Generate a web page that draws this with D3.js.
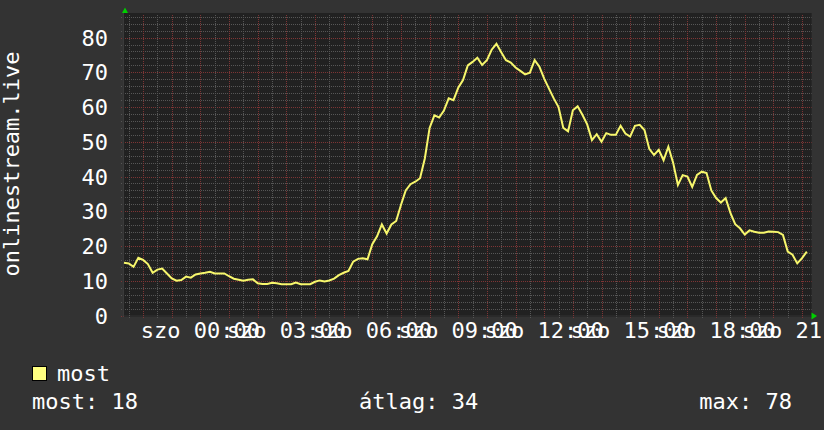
<!DOCTYPE html>
<html>
<head>
<meta charset="utf-8">
<script src="https://cdn.jsdelivr.net/npm/d3@7"></script>
<style>
  body { margin: 0; background: #333333; }
  text { font-family: "DejaVu Sans Mono", monospace; font-size: 22px; fill: #ffffff; }
</style>
</head>
<body>
<div id="graphique"></div>
<script>
// Idő: 10 perces minták péntek 21:20-tól
const startTime = new Date(2024, 0, 5, 21, 20)
const endTime = new Date(2024, 0, 6, 21, 20)
const stepMinutes = 10

// hallgatók száma (leolvasva)
const listeners = [
  15.2, 15.0, 14.0, 16.6, 16.0, 14.8, 12.3, 13.2, 13.5, 12.1,
  10.7, 10.0, 10.2, 11.2, 10.9, 11.8, 12.1, 12.3, 12.6, 12.1,
  12.1, 12.1, 11.3, 10.6, 10.3, 10.0, 10.3, 10.4, 9.3, 9.1,
  9.1, 9.4, 9.3, 9.0, 9.0, 9.0, 9.5, 9.0, 9.0, 9.0,
  9.7, 10.1, 9.8, 10.1, 10.6, 11.6, 12.3, 12.8, 15.5, 16.3,
  16.5, 16.2, 20.5, 22.8, 26.2, 23.6, 26.2, 27.2, 31.8, 36.0,
  37.8, 38.5, 39.5, 45.2, 54.0, 57.6, 57.0, 59.0, 62.5, 62.0,
  65.6, 67.8, 72.0, 73.0, 74.2, 72.1, 73.5, 76.5, 78.2, 75.8,
  73.5, 72.8, 71.4, 70.4, 69.4, 69.9, 73.5, 71.6, 68.2, 65.3,
  62.5, 60.0, 54.0, 53.0, 59.1, 60.2, 57.8, 55.0, 50.5, 52.2,
  50.0, 52.5, 52.0, 52.0, 54.6, 52.4, 51.5, 54.6, 54.9, 53.4,
  48.0, 46.2, 47.7, 44.7, 48.6, 44.0, 37.6, 40.4, 40.0, 37.0,
  40.5, 41.4, 41.0, 36.0, 33.8, 32.5, 33.8, 29.5, 26.3, 25.1,
  23.3, 24.5, 24.1, 23.8, 23.8, 24.2, 24.1, 24.0, 23.2, 18.4,
  17.5, 15.0, 16.5, 18.4
]

const yTicks = [0, 10, 20, 30, 40, 50, 60, 70, 80]
const xTickHours = [0, 3, 6, 9, 12, 15, 18, 21]
const xTickLabels = ["szo 00:00", "szo 03:00", "szo 06:00", "szo 09:00",
                     "szo 12:00", "szo 15:00", "szo 18:00", "szo 21:00"]

const yTitle = "onlinestream.live"
const legendName = "most"
const legendStats = [
  { label: "most", value: 18 },
  { label: "átlag", value: 34 },
  { label: "max", value: 78 }
]

let data = listeners.map((v, i) => ({
  time: d3.timeMinute.offset(startTime, i * stepMinutes),
  value: v
}))

// Méretek
let width = 824, height = 430
let plot = { left: 124, right: 811.6, top: 15, bottom: 315.5 }

let x = d3.scaleTime()
  .domain([startTime, endTime])
  .range([plot.left, plot.right])

let y = d3.scaleLinear()
  .domain([0, 86.5])
  .range([plot.bottom, plot.top])

let crisp = v => Math.round(v) + 0.5

let svg = d3.select("#graphique")
  .append("svg")
  .attr("width", width)
  .attr("height", height)

svg.append("rect")
  .attr("width", width).attr("height", height)
  .attr("fill", "#333333")

// grafikon háttér
svg.append("rect")
  .attr("x", plot.left).attr("y", plot.top - 2)
  .attr("width", plot.right - plot.left)
  .attr("height", plot.bottom - plot.top + 2)
  .attr("fill", "#212121")

let grid = svg.append("g")

// vízszintes rács: 2-esével, 10-esével piros
d3.range(0, 87, 2).forEach(v => {
  let major = v % 10 === 0
  grid.append("line")
    .attr("x1", plot.left - 3).attr("x2", plot.right)
    .attr("y1", crisp(y(v))).attr("y2", crisp(y(v)))
    .attr("stroke", major ? "#7e3535" : "#565656")
    .attr("stroke-dasharray", "1,1")
})

// függőleges rács: félóránként, óránként piros
d3.timeMinute.every(30).range(startTime, endTime).forEach(t => {
  let major = t.getMinutes() === 0
  grid.append("line")
    .attr("x1", crisp(x(t))).attr("x2", crisp(x(t)))
    .attr("y1", plot.top).attr("y2", plot.bottom + 3)
    .attr("stroke", major ? "#7e3535" : "#565656")
    .attr("stroke-dasharray", "1,1")
})

// tengelyek
svg.append("line")
  .attr("x1", plot.left - 0.5).attr("x2", plot.left - 0.5)
  .attr("y1", 11).attr("y2", plot.bottom + 1)
  .attr("stroke", "#3a3a3a")
svg.append("line")
  .attr("x1", plot.left).attr("x2", plot.right + 1)
  .attr("y1", crisp(plot.bottom)).attr("y2", crisp(plot.bottom))
  .attr("stroke", "#2a2a2a")

// nyilak
svg.append("path")
  .attr("d", "M122,13 L125,7.5 L128,13 Z")
  .attr("fill", "#00d000")
svg.append("path")
  .attr("d", "M811.5,312.5 L817,316 L811.5,319.5 Z")
  .attr("fill", "#00d000")

// y címkék
svg.append("g")
  .selectAll("text")
  .data(yTicks)
  .join("text")
  .attr("x", 108)
  .attr("y", d => y(d) + 8)
  .attr("text-anchor", "end")
  .text(d => d)

// x címkék
svg.append("g")
  .selectAll("text")
  .data(xTickHours)
  .join("text")
  .attr("x", d => x(new Date(2024, 0, 6, d, 0)))
  .attr("y", 338)
  .attr("text-anchor", "middle")
  .text((d, i) => xTickLabels[i])

// y tengely felirat
svg.append("text")
  .attr("transform", "translate(18.5,164) rotate(-90)")
  .attr("text-anchor", "middle")
  .text(yTitle)

// vonal
let line = d3.line()
  .x(d => x(d.time))
  .y(d => y(d.value))

svg.append("path")
  .datum(data)
  .attr("d", line)
  .attr("fill", "none")
  .attr("stroke", "#f7f76c")
  .attr("stroke-width", 2)
  .attr("stroke-linejoin", "miter")

// jelmagyarázat
svg.append("rect")
  .attr("x", 32.5).attr("y", 366.5)
  .attr("width", 14).attr("height", 14)
  .attr("fill", "#ffff80")
  .attr("stroke", "#000")
svg.append("text")
  .attr("x", 57).attr("y", 381)
  .text(legendName)

let statPos = [
  { x: 32, anchor: "start" },
  { x: 359, anchor: "start" },
  { x: 792, anchor: "end" }
]
svg.append("g")
  .selectAll("text")
  .data(legendStats)
  .join("text")
  .attr("x", (d, i) => statPos[i].x)
  .attr("y", 409)
  .attr("text-anchor", (d, i) => statPos[i].anchor)
  .text(d => d.label + ": " + d.value)
</script>
</body>
</html>
